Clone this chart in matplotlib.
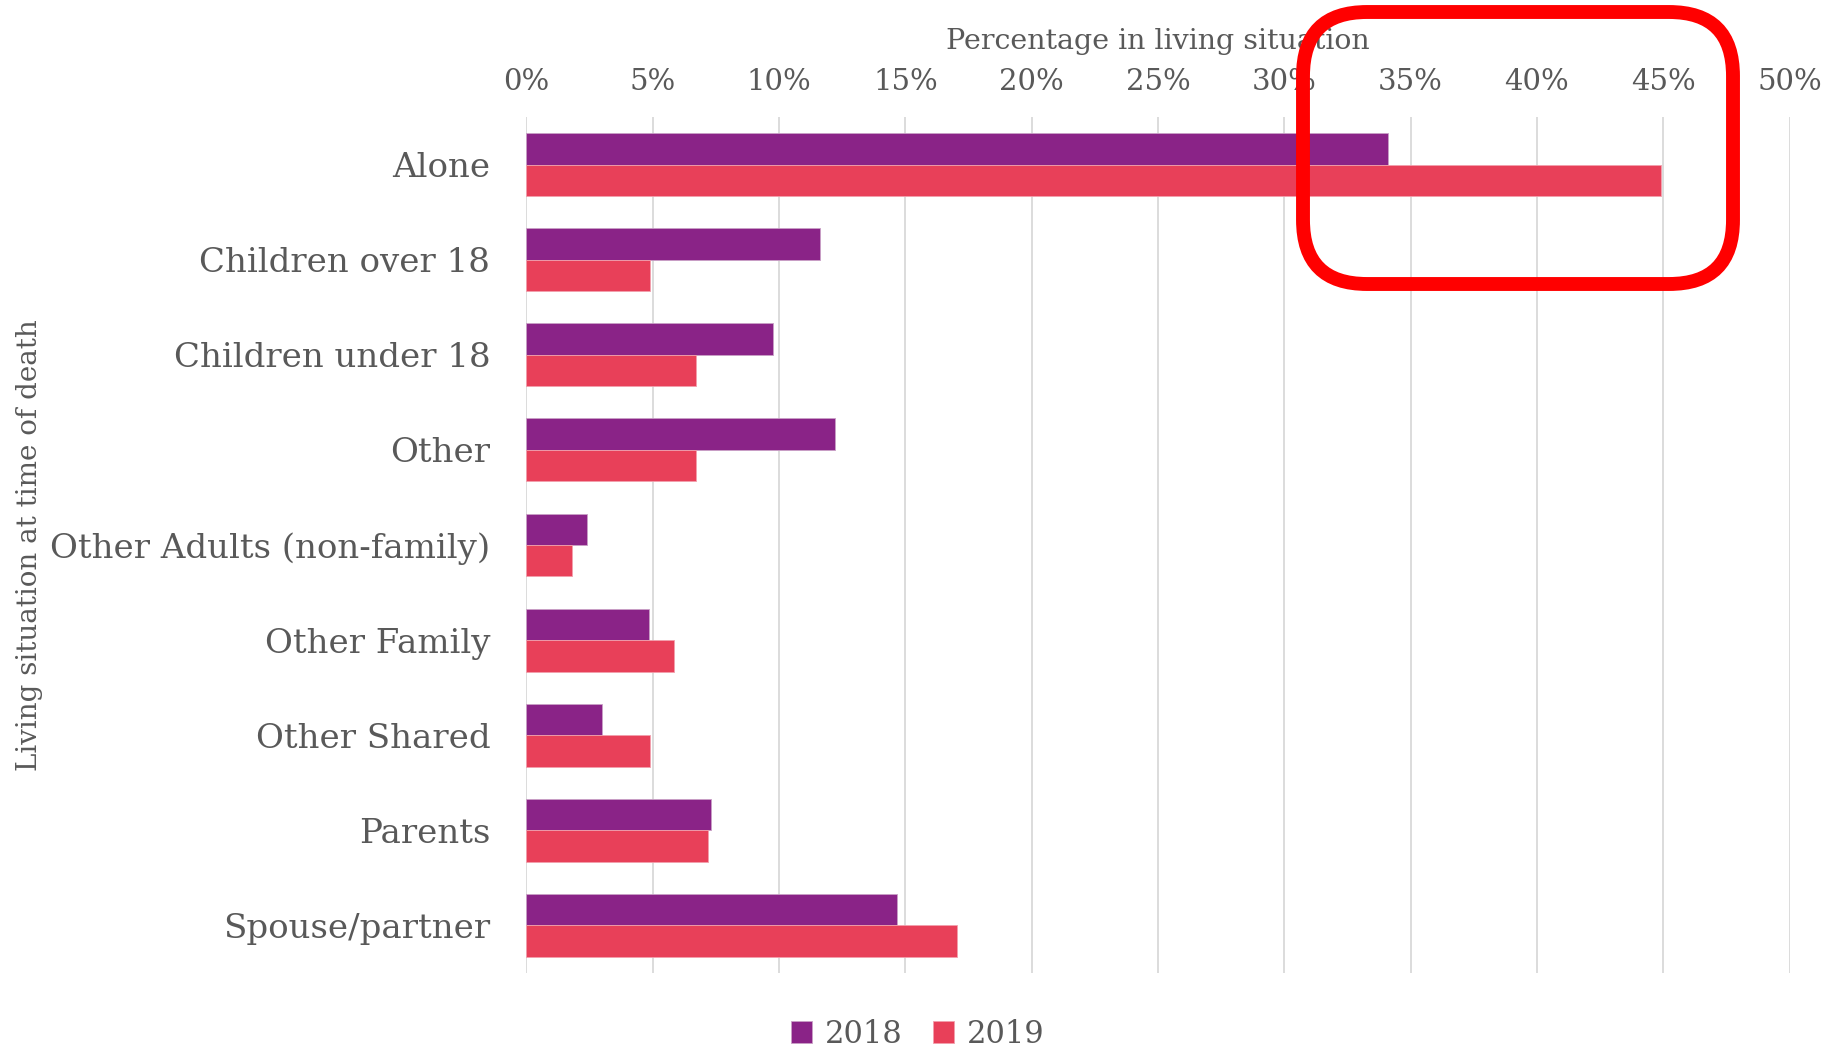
import matplotlib
matplotlib.use('Agg')
import matplotlib.pyplot as plt
import numpy as np
from matplotlib.patches import FancyBboxPatch
from matplotlib.ticker import PercentFormatter

# values (percent)
categories = ['Alone', 'Children over 18', 'Children under 18', 'Other',
              'Other Adults (non-family)', 'Other Family', 'Other Shared',
              'Parents', 'Spouse/partner']
pct_2018 = [34.1, 11.6, 9.75, 12.2, 2.4, 4.85, 3.0, 7.3, 14.65]
pct_2019 = [44.9, 4.9, 6.7, 6.7, 1.8, 5.85, 4.9, 7.2, 17.05]
years = ['2018', '2019']

purple = '#8A2387'
red = '#E84059'
grey = '#595959'

plt.rcParams['font.family'] = ['DejaVu Serif']

fig = plt.figure(figsize=(18.28, 10.5), dpi=100)
ax = fig.add_axes([0.288, 0.0733, 0.691, 0.8153])

y = np.arange(len(categories))
h = 0.33
ax.barh(y - h / 2, pct_2018, height=h, color=purple, label=years[0],
        edgecolor='#c9a0c6', linewidth=0.6, zorder=3)
ax.barh(y + h / 2, pct_2019, height=h, color=red, label=years[1],
        edgecolor='#f2a0ad', linewidth=0.6, zorder=3)

ax.set_xlim(0, 50)
ax.set_ylim(len(categories) - 0.5, -0.5)
ax.set_xticks(np.arange(0, 51, 5))
ax.xaxis.set_major_formatter(PercentFormatter(decimals=0))
ax.xaxis.tick_top()
ax.xaxis.set_label_position('top')
ax.grid(axis='x', color='#D9D9D9', linewidth=1.3, zorder=0)
ax.tick_params(axis='x', length=0, labelsize=21, labelcolor=grey, pad=15)
ax.set_yticks(y)
ax.set_yticklabels(categories)
ax.tick_params(axis='y', length=0, labelsize=24.5, labelcolor=grey, pad=26)
for s in ax.spines.values():
    s.set_visible(False)

ax.set_xlabel('Percentage in living situation', fontsize=20.5, color=grey, labelpad=14)
fig.text(0.016, 0.481, 'Living situation at time of death', rotation=90,
         fontsize=20, color=grey, ha='center', va='center')

fig.legend(loc='center', bbox_to_anchor=(0.502, 0.015), ncol=2, frameon=False,
           fontsize=22, labelcolor=grey, handlelength=0.7, handleheight=0.7,
           columnspacing=1.0, handletextpad=0.4)

# red highlight box around the top right
box = FancyBboxPatch((1303 / 1828, 1 - 284 / 1050), 430 / 1828, 272 / 1050,
                     boxstyle='round,pad=0,rounding_size=0.035',
                     transform=fig.transFigure, fill=False, edgecolor='#FF0000',
                     linewidth=10, zorder=10, mutation_aspect=1828 / 1050)
fig.patches.append(box)

fig.savefig('out.png', dpi=100, facecolor='white')
